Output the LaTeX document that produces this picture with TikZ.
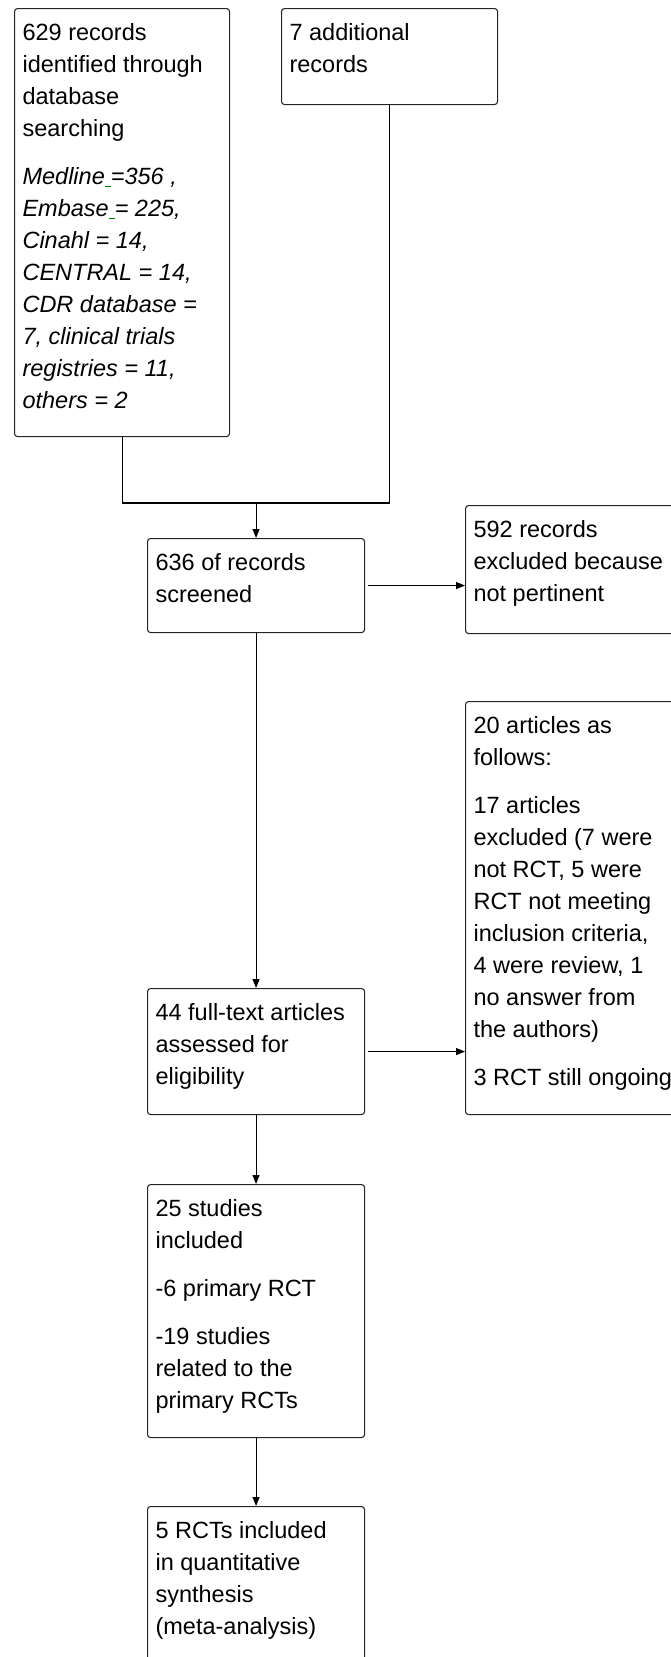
\documentclass[tikz,border=0pt]{standalone}
\usepackage{fontspec}
\setmainfont{Liberation Sans}
\usetikzlibrary{arrows.meta}
\def\boxtext#1#2#3{\parbox[t][#2pt][t]{#1pt}{\raggedright\rule{0pt}{32pt}#3}}
\def\greenmark{\textcolor{green!45!black}{\rule[-2.5pt]{6pt}{1.2pt}}}
\tikzset{
	box/.style={draw=black!85, line width=1.1pt, rounded corners=3pt, anchor=north west, inner xsep=8pt, inner ysep=0pt, font=\fontsize{23.5}{32}\selectfont},
	link/.style={line width=1.1pt},
	arr/.style={line width=1.1pt, -{Triangle[length=9pt,width=7pt]}}
}

\begin{document}
\begin{tikzpicture}[x=1pt, y=-1pt]
		%%%%% START %%%%%
		\useasboundingbox (0, 0) rectangle (670, 1657);
		
		\node[box] (records) at (14, 8) {\boxtext{199}{428}{629 records\\ identified through\\ database\\ searching\\[16pt]
			\itshape Medline\greenmark=356 ,\\ Embase\greenmark= 225,\\ Cinahl = 14,\\ CENTRAL = 14,\\ CDR database =\\ 7, clinical trials\\ registries = 11,\\ others = 2}};
		\node[box] (additional) at (281, 8) {\boxtext{200}{96}{7 additional\\ records}};
		
		\node[box] (screened) at (147, 538) {\boxtext{201}{94}{636 of records\\ screened}};
		\node[box] (excluded) at (465, 505) {\boxtext{200}{128}{592 records\\ excluded because\\ not pertinent}};
		
		\node[box] (articles) at (465, 701) {\boxtext{200}{413}{20 articles as\\ follows:\\[16pt]
			17 articles\\ excluded (7 were\\ not RCT, 5 were\\ RCT not meeting\\ inclusion criteria,\\ 4 were review, 1\\ no answer from\\ the authors)\\[16pt] 3 RCT still ongoing}};
		\node[box] (fulltext) at (147, 988) {\boxtext{201}{126}{44 full-text articles\\ assessed for\\ eligibility}};
		
		\node[box] (studies) at (147, 1184) {\boxtext{201}{253}{25 studies\\ included\\[16pt] -6 primary RCT\\[16pt] -19 studies\\ related to the\\ primary RCTs}};
		\node[box] (metaanalysis) at (147, 1506) {\boxtext{201}{200}{5 RCTs included\\ in quantitative\\ synthesis\\ (meta-analysis)}};
		
		\coordinate (merge) at (screened.north |- 0, 503);
		\draw[link] (records.south) |- (merge) -| (additional.south);
		\draw[arr] (merge) -- (screened.north);
		\draw[arr, shorten <=3pt] (screened.east) -- (screened.east -| excluded.west);
		\draw[arr] (screened.south) -- (fulltext.north);
		\draw[arr, shorten <=3pt] (fulltext.east) -- (fulltext.east -| articles.west);
		\draw[arr] (fulltext.south) -- (studies.north);
		\draw[arr] (studies.south) -- (metaanalysis.north);
		%%%%% END %%%%%
	\end{tikzpicture}
\end{document}
